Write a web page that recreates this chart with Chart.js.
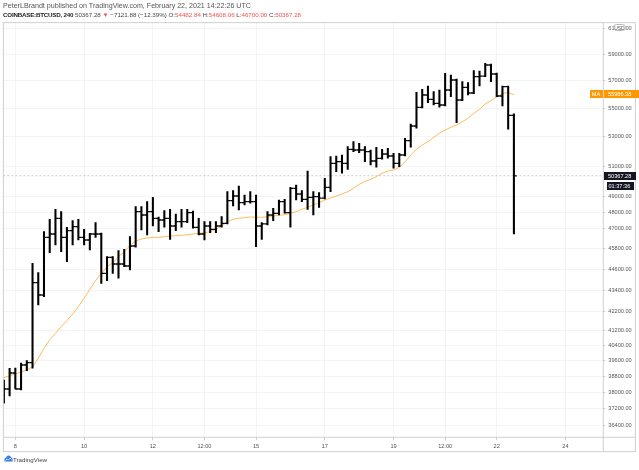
<!DOCTYPE html>
<html>
<head>
<meta charset="utf-8">
<script src="https://cdn.jsdelivr.net/npm/chart.js@4.4.1/dist/chart.umd.min.js"></script>
<style>
  html, body { margin: 0; padding: 0; background: #fff; }
  #wrap { position: relative; width: 639px; height: 470px; overflow: hidden; font-family: "Liberation Sans", Arial, sans-serif; }
  #wrap canvas { position: absolute; left: 0; top: 0; }
  .hdr { position: absolute; left: 3px; white-space: nowrap; line-height: 8px; }
  #h1 { top: 1.5px; color: #555; font-size: 7.1px; }
  #h2 { top: 10.5px; color: #444; font-size: 6.2px; }
  #h2 b { color: #222; letter-spacing: -0.2px; }
  .red { color: #ef5350; }
  .badge { position: absolute; font-size: 5.6px; line-height: 8px; height: 8px; color: #fff; white-space: nowrap; }
  #maTag { left: 589.5px; width: 13px; background: #ff9800; text-align: center; }
  #maVal { left: 603.5px; width: 35.5px; background: #ff9800; padding-left: 4.5px; box-sizing: border-box; }
  #pxVal { left: 603.5px; width: 32px; background: #131722; padding-left: 4.5px; box-sizing: border-box; }
  #timer { left: 606.7px; width: 27.5px; background: #131722; padding-left: 1.8px; box-sizing: border-box; }
  #usd { position: absolute; left: 612.7px; top: 23.8px; width: 13.5px; height: 7.4px; border: 0.6px solid #b8b8b8; border-radius: 3.5px; background: #fff; font-size: 5px; line-height: 7px; text-align: center; color: #555; box-sizing: border-box; }
  #logo { position: absolute; left: 3.5px; top: 455px; }
  #logoTxt { position: absolute; left: 13px; top: 455.5px; font-size: 6.2px; color: #444; }
</style>
</head>
<body>
<div id="wrap">
  <canvas id="btcChart"></canvas>
  <div class="hdr" id="h1">PeterLBrandt published on TradingView.com, February 22, 2021 14:22:26 UTC</div>
  <div class="hdr" id="h2"><b>COINBASE:BTCUSD, 240</b> 50367.28 <span class="red">▼</span> −7121.88 (−12.39%) O:<span class="red">54482.84</span> H:<span class="red">54608.06</span> L:<span class="red">46700.00</span> C:<span class="red">50367.28</span></div>
  <div id="usd">USD</div>
  <div class="badge" id="maTag">MA</div>
  <div class="badge" id="maVal">55986.38</div>
  <div class="badge" id="pxVal">50367.28</div>
  <div class="badge" id="timer">01:37:36</div>
  <svg id="logo" width="9" height="7" viewBox="0 0 9 7">
    <path d="M0.5 6.5 L0.5 4.2 Q0.5 2.6 2.2 2.6 Q2.6 0.6 4.6 0.6 Q6.6 0.6 7 2.6 Q8.6 2.8 8.6 4.6 L8.6 6.5 Z" fill="#2e7ef0"/>
    <path d="M1.6 5.6 L3.3 3.8 L4.5 5 L6.2 3.2 L7.6 4.6" stroke="#fff" stroke-width="0.8" fill="none"/>
  </svg>
  <div id="logoTxt">TradingView</div>
</div>

<script>
// BTCUSD 4h bars, Feb 7 16:00 .. Feb 22 12:00 (bar index 0..89)
var opens = [37861, 38159, 38962, 38159, 39370, 39488, 43823, 43126, 46491, 46691,
    47656, 46491, 46892, 47138, 46491, 46328, 46691, 46691, 44362, 45296,
    44903, 44903, 44786, 45967, 48067, 47861, 48067, 47656, 47550, 47656,
    47181, 47445, 47445, 48005, 47101, 46691, 47181, 46978, 47181, 47347,
    48761, 49059, 48634, 48697, 48697, 47181, 47307, 47861, 47967, 48697,
    48005, 49553, 49187, 48850, 48977, 49015, 48930, 49618, 51194, 51300,
    51194, 52136, 52088, 52088, 51973, 51347, 51528, 51818, 51683, 51194,
    51750, 52722, 53741, 55066, 55955, 55643, 55354, 55231, 56320, 57058,
    55592, 56519, 56100, 57304, 57352, 58184, 57506, 55882, 56565, 54482.84];
var highs = [38608, 39201, 39217, 39473, 39591, 44943, 44397, 46831, 47594, 48217,
    48067, 47101, 47507, 47594, 46978, 46734, 47384, 46752, 45332, 45332,
    45687, 45771, 46527, 48381, 48381, 48697, 48977, 47737, 48129, 48217,
    47923, 48217, 48217, 48111, 47656, 47445, 47445, 47445, 47755, 49335,
    49399, 49702, 49123, 49335, 49123, 47384, 48067, 48280, 48805, 48850,
    49618, 49767, 49399, 50683, 49335, 49271, 50204, 51636, 51683, 51750,
    52312, 52654, 52544, 52312, 52088, 52272, 52136, 52204, 51865, 51865,
    52887, 53881, 56151, 56372, 56614, 56196, 56320, 57558, 57431, 57132,
    56932, 56858, 57754, 57731, 58313, 58260, 57581, 56614, 56614, 54608.06];
var lows = [37455, 37812, 38159, 38109, 39078, 39201, 42568, 43031, 45569, 46027,
    45628, 45037, 46027, 46328, 46027, 45729, 46491, 43788, 43937, 44362,
    44075, 44745, 44553, 45900, 46935, 46630, 47181, 46831, 47101, 46370,
    46892, 47101, 47384, 47050, 46630, 46328, 46771, 46771, 47101, 47307,
    48425, 48173, 48488, 48596, 45926, 46370, 47242, 47507, 47861, 47967,
    47101, 48805, 48697, 48217, 47861, 48343, 48870, 49335, 50637, 50532,
    50795, 51973, 51906, 51300, 51080, 50928, 51461, 51528, 50862, 50967,
    51683, 52272, 53581, 55016, 55397, 55231, 55066, 55160, 55831, 53973,
    55541, 55955, 56049, 56614, 57304, 56932, 55831, 55160, 53511, 46700.00];
var closes = [38159, 38962, 38159, 39370, 39488, 43823, 43126, 46491, 46691, 47656,
    46491, 46892, 47138, 46491, 46328, 46691, 46691, 44362, 45296, 44903,
    44903, 44786, 45967, 48067, 47861, 48067, 47656, 47550, 47656, 47181,
    47445, 47445, 48005, 47101, 46691, 47181, 46978, 47181, 47347, 48761,
    49059, 48634, 48697, 48697, 47181, 47307, 47861, 47967, 48697, 48005,
    49553, 49187, 48850, 48977, 49015, 48930, 49618, 51194, 51300, 51194,
    52136, 52088, 52088, 51973, 51347, 51528, 51818, 51683, 51194, 51750,
    52722, 53741, 55066, 55955, 55643, 55354, 55231, 56320, 57058, 55592,
    56519, 56100, 57304, 57352, 58184, 57506, 55882, 56565, 54482.84, 50367.28];
// moving average
var maValues = [38724, 38810, 38911, 39012, 39114, 39283, 39715, 40235, 40673, 41029,
    41383, 41707, 42073, 42474, 42941, 43448, 43937, 44362, 44745, 44979,
    45332, 45628, 45997, 46268, 46388, 46449, 46491, 46491, 46527, 46570,
    46588, 46612, 46648, 46691, 46734, 46771, 46831, 46978, 47181, 47445,
    47594, 47656, 47693, 47737, 47718, 47718, 47755, 47799, 47842, 47880,
    47967, 48067, 48217, 48343, 48488, 48634, 48805, 48932, 49059, 49187,
    49335, 49553, 49812, 50007, 50138, 50308, 50532, 50683, 50749, 50928,
    51300, 51750, 52136, 52428, 52654, 52956, 53233, 53462, 53650, 53811,
    54043, 54283, 54637, 54922, 55303, 55541, 55832, 56079, 56124, 55986.38];

var xTickPos = [2, 14, 26, 35, 44, 56, 68, 77, 86, 98];
var xTickLabels = ['8', '10', '12', '12:00', '15', '17', '19', '12:00', '22', '24'];
var yTickVals = [36400, 37200, 38000, 38800, 39600, 40400, 41200, 42200, 43400, 44600,
    45800, 47000, 48000, 49000, 51000, 53000, 55000, 57000, 59000, 61000];

var lastPrice = closes[closes.length - 1];
var axisFont = { family: '"Liberation Sans", Arial, sans-serif', size: 5.6 };

var decor = {
    id: 'decor',
    beforeDatasetsDraw: function(chart) {
        var ctx = chart.ctx, a = chart.chartArea;
        var y = chart.scales.y.getPixelForValue(lastPrice);
        ctx.save();
        ctx.strokeStyle = 'rgba(120,123,134,0.55)';
        ctx.lineWidth = 0.7;
        ctx.setLineDash([2, 2]);
        ctx.beginPath();
        ctx.moveTo(a.left, y);
        ctx.lineTo(a.right, y);
        ctx.stroke();
        ctx.restore();
    },
    afterDatasetsDraw: function(chart) {
        var ctx = chart.ctx, xs = chart.scales.x, ys = chart.scales.y, a = chart.chartArea;
        ctx.save();
        ctx.beginPath();
        ctx.rect(a.left, a.top, a.right - a.left, a.bottom - a.top);
        ctx.clip();
        ctx.strokeStyle = '#000';
        ctx.lineWidth = 1.3;
        ctx.beginPath();
        for (var i = 0; i < opens.length; i++) {
            var px = xs.getPixelForValue(i);
            var yo = ys.getPixelForValue(opens[i]);
            var yc = ys.getPixelForValue(closes[i]);
            ctx.moveTo(px - 2.8, yo);
            ctx.lineTo(px, yo);
            ctx.moveTo(px, yc);
            ctx.lineTo(px + 2.8, yc);
        }
        ctx.stroke();
        ctx.restore();
    },
    afterDraw: function(chart) {
        var ctx = chart.ctx, a = chart.chartArea;
        ctx.save();
        ctx.strokeStyle = '#c4c4c4';
        ctx.lineWidth = 0.8;
        ctx.strokeRect(3.3, 22.7, 632, 429);
        ctx.beginPath();
        ctx.moveTo(a.right, 22.7);
        ctx.lineTo(a.right, 451.7);
        ctx.moveTo(3.3, a.bottom);
        ctx.lineTo(635.3, a.bottom);
        ctx.stroke();
        ctx.restore();

        var ys = chart.scales.y;
        var yMa = ys.getPixelForValue(maValues[maValues.length - 1]);
        var yPx = ys.getPixelForValue(lastPrice);
        document.getElementById('maTag').style.top = (yMa - 4.3) + 'px';
        document.getElementById('maVal').style.top = (yMa - 4.3) + 'px';
        document.getElementById('pxVal').style.top = (yPx - 4) + 'px';
        document.getElementById('timer').style.top = (yPx + 6) + 'px';
    }
};

var ctx = document.getElementById('btcChart').getContext('2d');
var btcChart = new Chart(ctx, {
    type: 'bar',
    data: {
        datasets: [
            {
                type: 'bar',
                label: 'High-Low',
                data: highs.map(function(h, i) { return { x: i, y: [lows[i], h] }; }),
                backgroundColor: '#000',
                borderWidth: 0,
                barThickness: 1.4,
                order: 0
            },
            {
                type: 'line',
                label: 'MA',
                data: maValues.map(function(v, i) { return { x: i, y: v }; }),
                borderColor: 'rgba(255,152,0,0.65)',
                borderWidth: 1,
                pointRadius: 0,
                tension: 0,
                fill: false,
                order: 1
            }
        ]
    },
    options: {
        responsive: true,
        maintainAspectRatio: false,
        animation: false,
        layout: { padding: { left: 3.3, top: 22.7, right: 3.7, bottom: 18.3 } },
        plugins: {
            legend: { display: false },
            tooltip: { enabled: false }
        },
        scales: {
            x: {
                type: 'linear',
                min: -0.1,
                max: 104.6,
                offset: false,
                afterBuildTicks: function(s) { s.ticks = xTickPos.map(function(v) { return { value: v }; }); },
                afterFit: function(s) { s.height = 14.4; },
                ticks: {
                    autoSkip: false,
                    maxRotation: 0,
                    padding: 2.5,
                    color: '#555',
                    font: axisFont,
                    callback: function(v, idx) { return xTickLabels[idx]; }
                },
                grid: { offset: false, color: '#f1f1f3', lineWidth: 0.8, tickLength: 3, tickColor: '#c4c4c4' },
                border: { display: false }
            },
            y: {
                type: 'logarithmic',
                position: 'right',
                min: 35832,
                max: 61478,
                afterBuildTicks: function(s) { s.ticks = yTickVals.map(function(v) { return { value: v }; }); },
                afterFit: function(s) { s.width = 32; },
                ticks: {
                    autoSkip: false,
                    padding: 3,
                    color: '#555',
                    font: axisFont,
                    callback: function(v) { return Number(v).toFixed(2); }
                },
                grid: { color: '#f1f1f3', lineWidth: 0.8, tickLength: 2, tickColor: '#c4c4c4' },
                border: { display: false }
            }
        }
    },
    plugins: [decor]
});
</script>
</body>
</html>
